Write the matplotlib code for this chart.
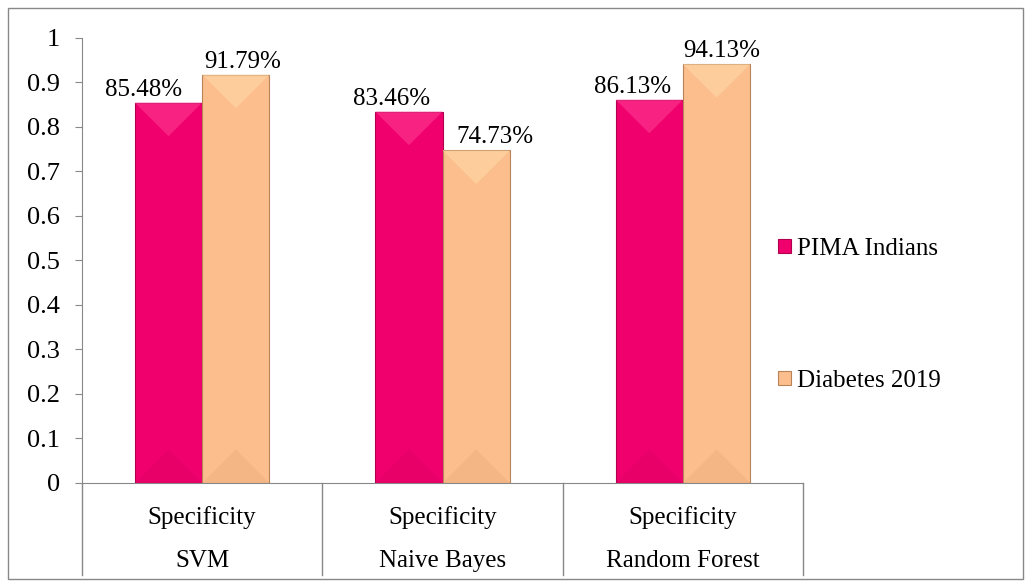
import matplotlib.pyplot as plt
from matplotlib.patches import Polygon, Rectangle
import numpy as np

plt.rcParams['font.family'] = ['Liberation Serif', 'DejaVu Serif']

models = ['SVM', 'Naive Bayes', 'Random Forest']
metric = 'Specificity'
series = ['PIMA Indians', 'Diabetes 2019']
pima = [0.8548, 0.8346, 0.8613]
diab = [0.9179, 0.7473, 0.9413]

colors = ['#F0006C', '#FBBE8C']
light = ['#FF3A92', '#FFD9A8']
dark = ['#C8005A', '#D9996A']
edge = ['#B0004E', '#B88358']
fs = 18

fig = plt.figure(figsize=(10.31, 5.86), dpi=100)
ax = fig.add_axes([0.0795, 0.1758, 0.6995, 0.7594])

x = np.arange(len(models))
w = 0.28
vals = [pima, diab]
# label offsets (px) left/right of bar centre
offs = [[-25, -17, -17], [7, 19, 5]]

for s in range(2):
    xs = x + (s - 0.5) * w
    ax.bar(xs, vals[s], w, color=colors[s], edgecolor=edge[s], linewidth=0.8,
           label=series[s], zorder=2)
    for i, (xc, v) in enumerate(zip(xs, vals[s])):
        # bevel: lighter top triangle, darker bottom
        l, r = xc - w / 2, xc + w / 2
        hy = (w / 2) * 240 / 445  # half width in y units
        ax.add_patch(Polygon([[l, v], [r, v], [xc, v - hy]], closed=True,
                             facecolor=light[s], edgecolor='none', alpha=0.6, zorder=3))
        ax.add_patch(Polygon([[l, 0], [r, 0], [xc, hy]], closed=True,
                             facecolor=dark[s], edgecolor='none', alpha=0.2, zorder=3))
        ax.annotate('%.2f%%' % (v * 100), (xc, v), xytext=(offs[s][i], 2),
                    textcoords='offset pixels', ha='center', va='bottom', fontsize=fs)

ax.set_xlim(-0.5, 2.5)
ax.set_ylim(0, 1)
ax.set_yticks(np.arange(0, 1.01, 0.1))
ax.set_yticklabels(['0'] + ['%.1f' % t for t in np.arange(0.1, 0.95, 0.1)] + ['1'])
ax.tick_params(axis='y', labelsize=19, color='#888888', length=5, pad=11)
ax.set_xticks([])
for sp in ['top', 'right']:
    ax.spines[sp].set_visible(False)
for sp in ['left', 'bottom']:
    ax.spines[sp].set_color('#888888')

# multi-level category axis
for k in range(len(models) + 1):
    ax.plot([k - 0.5, k - 0.5], [0, -0.207], color='#888888', lw=1, clip_on=False)
for i, m in enumerate(models):
    ax.text(i, -0.078, metric, ha='center', va='center', fontsize=fs)
    ax.text(i, -0.176, m, ha='center', va='center', fontsize=fs)

leg = fig.legend(loc='center left', bbox_to_anchor=(0.733, 0.4625), frameon=False,
                 fontsize=fs, handlelength=0.5, handleheight=0.5, handletextpad=0.25,
                 labelspacing=4.4)

fig.add_artist(Rectangle((0.008, 0.012), 0.984, 0.974, transform=fig.transFigure,
                         fill=False, edgecolor='#888888', lw=1))

fig.savefig('out.png', dpi=100)
